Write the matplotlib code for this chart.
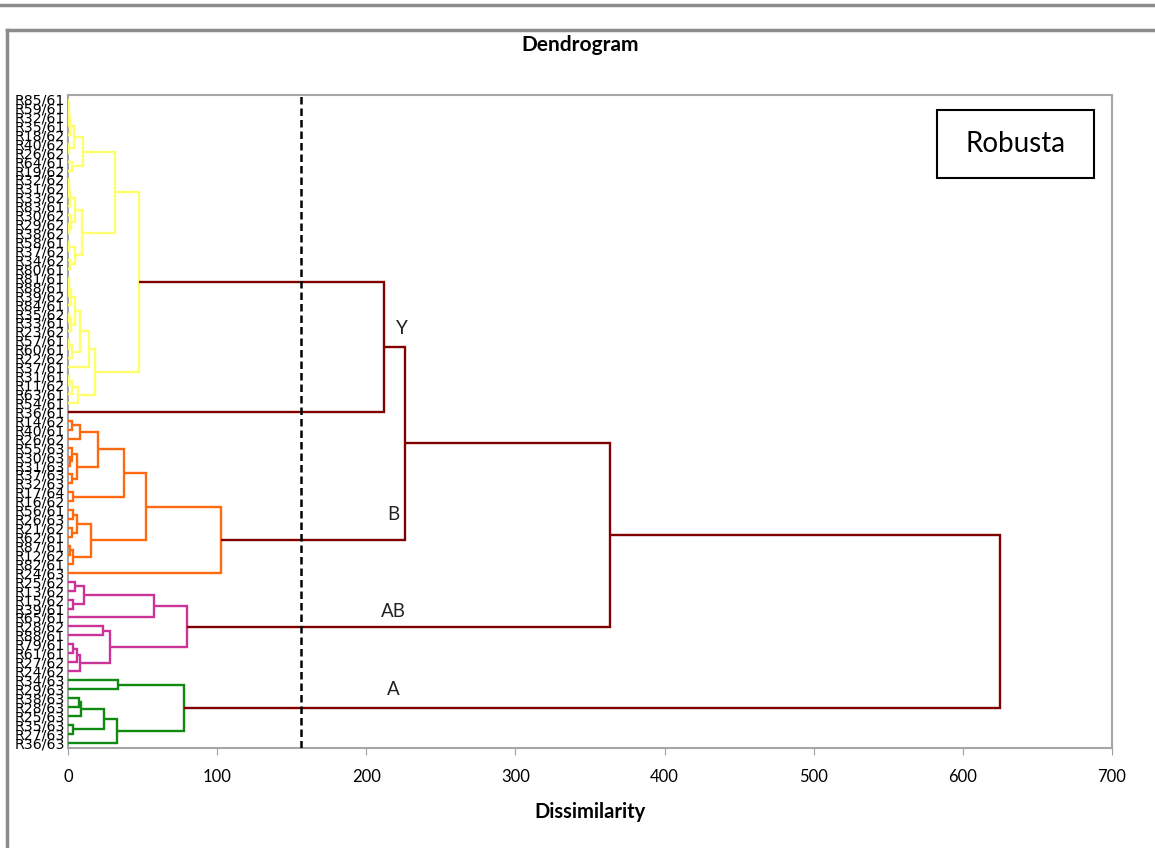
import matplotlib
matplotlib.use("Agg")
import matplotlib.pyplot as plt
from matplotlib.lines import Line2D
from matplotlib.patches import Rectangle

plt.rcParams['font.family'] = ['Lato', 'DejaVu Sans']

# leaf labels, top to bottom
labels = ['R85/61', 'R59/61', 'R32/61', 'R35/61', 'R18/62', 'R40/62', 'R26/62', 'R64/61',
          'R19/62', 'R32/62', 'R31/62', 'R33/62', 'R83/61', 'R30/62', 'R29/62', 'R38/62',
          'R58/61', 'R37/62', 'R34/62', 'R80/61', 'R81/61', 'R88/61', 'R39/62', 'R84/61',
          'R35/62', 'R33/61', 'R23/62', 'R57/61', 'R60/61', 'R22/62', 'R37/61', 'R31/61',
          'R11/62', 'R63/61', 'R54/61', 'R36/61',
          'R14/62', 'R40/61', 'R26/62', 'R55/63', 'R30/63', 'R31/63', 'R37/63', 'R32/63',
          'R17/64', 'R16/62', 'R56/61', 'R26/63', 'R21/62', 'R62/61', 'R87/61', 'R12/62',
          'R82/61', 'R24/63',
          'R25/62', 'R13/62', 'R15/62', 'R39/61', 'R65/61', 'R28/62', 'R88/61', 'R79/61',
          'R61/61', 'R27/62', 'R24/62',
          'R34/63', 'R29/63', 'R38/63', 'R28/63', 'R25/63', 'R35/63', 'R27/63', 'R36/63']

# cluster sizes (in leaf order) and colours
group_sizes = [36, 18, 11, 8]
group_colors = ['#ffff6e', '#ff6a10', '#cc3399', '#108a10']
link_color = '#800000'
cut = 156.5

# merges: (name, left, right, dissimilarity); ints are leaves, strings are earlier merges
yellow_links = [
    ('ya1', 0, 1, 0.3), ('ya2', 'ya1', 2, 0.5), ('ya3', 'ya2', 3, 0.8), ('ya4', 'ya3', 4, 1.5),
    ('ya5', 5, 6, 1.0), ('ya6', 'ya4', 'ya5', 3.8), ('yb1', 7, 8, 2.7),
    ('yA', 'ya6', 'yb1', 10.0),
    ('yc1', 9, 10, 0.5), ('yc2', 'yc1', 11, 0.9), ('yc3', 'yc2', 12, 1.6),
    ('yc4', 14, 15, 0.8), ('yc5', 13, 'yc4', 1.8), ('yc6', 'yc3', 'yc5', 4.5),
    ('yd1', 16, 17, 0.8), ('yd2', 18, 19, 1.2), ('yd3', 'yd1', 'yd2', 4.5),
    ('yB', 'yc6', 'yd3', 9.4),
    ('y1', 'yA', 'yB', 31.7),
    ('ye1', 20, 21, 0.5), ('ye2', 'ye1', 22, 1.0), ('ye3', 'ye2', 23, 2.2),
    ('ye4', 24, 25, 0.7), ('ye5', 'ye4', 26, 1.8), ('ye6', 'ye3', 'ye5', 4.5),
    ('yf1', 27, 28, 1.0), ('yf2', 'yf1', 29, 2.7),
    ('yE', 'ye6', 'yf2', 8.3), ('yF', 'yE', 30, 13.9),
    ('yg1', 31, 32, 1.0), ('yg2', 'yg1', 33, 2.5), ('yg3', 'yg2', 34, 6.7),
    ('y2', 'yF', 'yg3', 18.3),
    ('yellow', 'y1', 'y2', 47.5),
]
orange_links = [
    ('oa1', 36, 37, 2.5), ('oa2', 'oa1', 38, 8.0),
    ('ob1', 40, 41, 1.5), ('ob2', 39, 'ob1', 3.0), ('ob3', 42, 43, 2.5), ('ob4', 'ob2', 'ob3', 6.0),
    ('oA', 'oa2', 'ob4', 20.0), ('oc', 44, 45, 3.3), ('o1', 'oA', 'oc', 37.8),
    ('od1', 46, 47, 3.4), ('od2', 48, 49, 2.7), ('od3', 'od1', 'od2', 6.0),
    ('oe1', 50, 51, 1.5), ('oe2', 'oe1', 52, 3.3), ('o2', 'od3', 'oe2', 15.4),
    ('o17', 'o1', 'o2', 52.3),
    ('orange', 'o17', 53, 102.6),
]
magenta_links = [
    ('ma1', 54, 55, 4.7), ('ma2', 56, 57, 3.4), ('ma3', 'ma1', 'ma2', 10.5),
    ('m1', 'ma3', 58, 57.7),
    ('mb1', 59, 60, 23.5), ('mc1', 61, 62, 3.4), ('mc2', 'mc1', 63, 6.0), ('mc3', 'mc2', 64, 8.0),
    ('m2', 'mb1', 'mc3', 28.0),
    ('magenta', 'm1', 'm2', 79.8),
]
green_links = [
    ('ga', 65, 66, 33.6),
    ('gb1', 67, 68, 7.5), ('gb2', 'gb1', 69, 9.0), ('gc', 70, 71, 3.4),
    ('gb3', 'gb2', 'gc', 24.0), ('gb4', 'gb3', 72, 33.0),
    ('green', 'ga', 'gb4', 77.8),
]
top_links = [
    ('Y', 'yellow', 35, 211.9),
    ('YB', 'Y', 'orange', 226.0),
    ('YBAB', 'YB', 'magenta', 363.4),
    ('root', 'YBAB', 'green', 625.0),
]
# cluster names written on the chart: (text, dissimilarity, leaf position)
cluster_text = ['Y', 'B', 'AB', 'A']
cluster_x = [224, 218, 218, 218]
cluster_y = [25.7, 46.5, 57.3, 66.1]

fig = plt.figure(figsize=(11.55, 8.48), dpi=100)
ax = fig.add_axes([68 / 1155, 1 - 748 / 848, (1112 - 68) / 1155, (748 - 95) / 848])

leaf_color = []
for size, col in zip(group_sizes, group_colors):
    leaf_color += [col] * size

pos = {i: float(i) for i in range(len(labels))}
hgt = {i: 0.0 for i in range(len(labels))}
first = {i: i for i in range(len(labels))}

for name, a, b, h in yellow_links + orange_links + magenta_links + green_links + top_links:
    col = link_color if h > cut else leaf_color[first[a]]
    ax.plot([hgt[a], h, h, hgt[b]], [pos[a], pos[a], pos[b], pos[b]],
            color=col, lw=1.7, solid_joinstyle='miter', solid_capstyle='butt', zorder=3)
    pos[name] = (pos[a] + pos[b]) / 2
    hgt[name] = h
    first[name] = first[a]

ax.axvline(cut, color='black', ls=(0, (3, 1.6)), lw=1.8, zorder=4)

for t, xv, yv in zip(cluster_text, cluster_x, cluster_y):
    ax.text(xv, yv, t, fontsize=13.5, ha='center', va='center', color='#222222')

ax.set_xlim(0, 700)
ax.set_ylim(72.6, -0.45)
ax.set_xticks(range(0, 701, 100))
ax.set_yticks(range(len(labels)))
ax.set_yticklabels(labels, fontsize=10.2, family=['DejaVu Sans'])
ax.tick_params(axis='y', length=0, pad=2)
ax.tick_params(axis='x', length=5, color='#a0a0a0', labelsize=12, pad=10)
for s in ax.spines.values():
    s.set_color('#a6a6a6')
    s.set_linewidth(1.5)

ax.set_xlabel('Dissimilarity', fontsize=14.5, fontweight='bold', labelpad=12)
fig.text(580 / 1155, 1 - 45 / 848, 'Dendrogram', fontsize=15, fontweight='bold',
         ha='center', va='center')

# "Robusta" label box
ax.add_patch(Rectangle((0.8324, 0.8729), 0.1504, 0.1041, transform=ax.transAxes,
                       fc='white', ec='black', lw=1.5, zorder=5))
ax.text(0.9076, 0.9249, 'Robusta', transform=ax.transAxes, fontsize=20,
        ha='center', va='center', zorder=6)

# screenshot frame
fig.add_artist(Line2D([0, 1], [1 - 5 / 848, 1 - 5 / 848], color='#8c8c8c', lw=2.5))
fig.add_artist(Line2D([7 / 1155, 1], [1 - 30 / 848, 1 - 30 / 848], color='#8c8c8c', lw=2.5))
fig.add_artist(Line2D([7 / 1155, 7 / 1155], [0, 1 - 30 / 848], color='#8c8c8c', lw=2.5))

fig.savefig('out.png', dpi=100)
